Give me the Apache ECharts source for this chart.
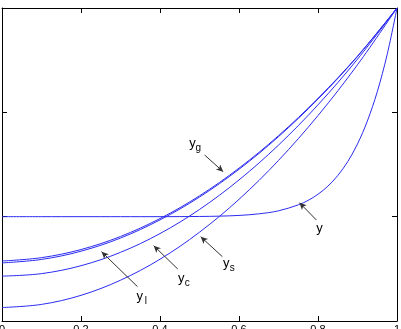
<!DOCTYPE html>
<html><head><meta charset="utf-8">
<script src="https://cdn.jsdelivr.net/npm/echarts@6/dist/echarts.min.js"></script>
<style>html,body{margin:0;padding:0;background:#fff}#c{width:401px;height:329px}</style>
</head><body><div id="c"></div>
<script>
// shared x positions for the four approximations
const xs = [0, 0.1, 0.2, 0.3, 0.4, 0.5, 0.6, 0.7, 0.8, 0.9, 1];
const yG = [0.575, 0.607, 0.685, 0.810, 0.982, 1.200, 1.465, 1.776, 2.134, 2.539, 3.0];
const yL = [0.557, 0.590, 0.669, 0.795, 0.969, 1.188, 1.454, 1.767, 2.127, 2.535, 3.0];
const yC = [0.430, 0.454, 0.530, 0.658, 0.838, 1.069, 1.352, 1.686, 2.072, 2.510, 3.0];
const yS = [0.129, 0.159, 0.246, 0.391, 0.592, 0.851, 1.166, 1.539, 1.969, 2.456, 3.0];
// exact solution y
const xExact = [0, 0.1, 0.2, 0.3, 0.4, 0.5, 0.55, 0.6, 0.65, 0.7, 0.75, 0.775, 0.8, 0.825, 0.85, 0.875, 0.9, 0.925, 0.95, 0.975, 1];
const yExact = [1, 1, 1, 1, 1, 1.002, 1.005, 1.012, 1.027, 1.056, 1.113, 1.156, 1.215, 1.292, 1.394, 1.526, 1.697, 1.917, 2.197, 2.553, 3.0];
const xTickLabels = ['0', '0.2', '0.4', '0.6', '0.8', '1'];
// annotations (data coordinates)
const labelSubs = ['g', 'l', 'c', 's', ''];
const labelAt = [[0.482, 1.70], [0.349, 0.24], [0.454, 0.41], [0.568, 0.555], [0.804, 0.89]];
const arrowFrom = [[0.513, 1.591], [0.343, 0.329], [0.445, 0.498], [0.558, 0.616], [0.796, 0.968]];
const arrowTo = [[0.560, 1.431], [0.252, 0.664], [0.384, 0.722], [0.503, 0.808], [0.753, 1.134]];

const LINE = '#2b2bf0';
const FONT = 'Liberation Sans';
const pairs = (xa, ya) => xa.map((x, i) => [x, ya[i]]);
function curve(name, data) {
  return {
    name, type: 'line', data, smooth: 0.35, showSymbol: false, symbol: 'none',
    lineStyle: { color: LINE, width: 1 }, silent: true, animation: false, z: 2
  };
}
const chart = echarts.init(document.getElementById('c'), null, { renderer: 'canvas' });
const axisCommon = {
  type: 'value', min: 0, splitLine: { show: false },
  axisLine: { show: true, onZero: false, lineStyle: { color: '#000', width: 1 } },
  axisTick: { show: true, inside: true, length: 5, lineStyle: { color: '#000', width: 1 } }
};
const arrowSeries = {
  type: 'line', data: [], silent: true, animation: false, z: 3,
  markLine: {
    silent: true, animation: false, symbol: ['none', 'arrow'], symbolSize: [5, 7],
    label: { show: false },
    lineStyle: { color: '#333', width: 1, type: 'solid' },
    emphasis: { disabled: true },
    data: arrowFrom.map((f, i) => [{ coord: f }, { coord: arrowTo[i] }])
  }
};
chart.setOption({
  animation: false,
  backgroundColor: '#fff',
  grid: { left: 2, right: 4, top: 8, bottom: 8, containLabel: false, outerBoundsMode: 'none' },
  xAxis: [
    Object.assign({}, axisCommon, {
      max: 1, interval: 0.2, position: 'bottom',
      axisLabel: { show: true, margin: 3, fontSize: 11, fontFamily: FONT, color: '#000',
        formatter: v => xTickLabels[Math.round(v / 0.2)] }
    }),
    Object.assign({}, axisCommon, { max: 1, interval: 0.2, position: 'top', axisLabel: { show: false } })
  ],
  yAxis: [
    Object.assign({}, axisCommon, { max: 3, interval: 1, position: 'left', axisLabel: { show: false } }),
    Object.assign({}, axisCommon, { max: 3, interval: 1, position: 'right', axisLabel: { show: false } })
  ],
  series: [
    curve('yg', pairs(xs, yG)),
    curve('yl', pairs(xs, yL)),
    curve('yc', pairs(xs, yC)),
    curve('ys', pairs(xs, yS)),
    curve('y', pairs(xExact, yExact)),
    arrowSeries
  ]
});
const graphics = [];
labelAt.forEach((p, i) => {
  const px = chart.convertToPixel({ xAxisIndex: 0, yAxisIndex: 0 }, p);
  graphics.push({ type: 'text', x: px[0], y: px[1], silent: true,
    style: { text: 'y', font: '13px "' + FONT + '"', fill: '#000', align: 'center', verticalAlign: 'middle' } });
  if (labelSubs[i]) {
    graphics.push({ type: 'text', x: px[0] + 6, y: px[1] + 5, silent: true,
      style: { text: labelSubs[i], font: '10px "' + FONT + '"', fill: '#000', align: 'center', verticalAlign: 'middle' } });
  }
});
chart.setOption({ graphic: graphics });
</script></body></html>
